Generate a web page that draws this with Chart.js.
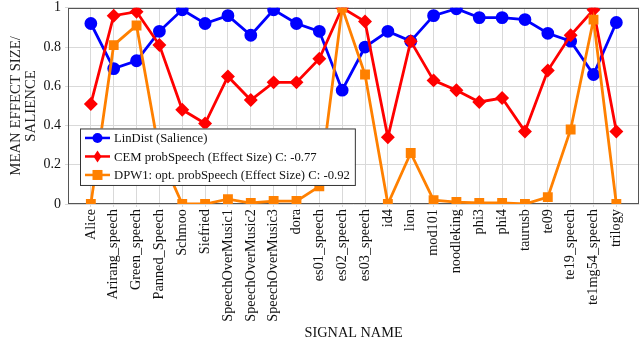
<!DOCTYPE html>
<html>
<head>
<meta charset="utf-8">
<script src="https://cdn.jsdelivr.net/npm/chart.js@4.4.1/dist/chart.umd.min.js"></script>
<style>
html, body { margin: 0; padding: 0; background: #fff; overflow: hidden; }
#wrap { width: 647px; height: 343px; }
</style>
</head>
<body>
<div id="wrap"><canvas id="chart"></canvas></div>
<script>
const signals = [
    "Alice", "Arirang_speech", "Green_speech", "Panned_Speech", "Schmoo", "Siefried",
    "SpeechOverMusic1", "SpeechOverMusic2", "SpeechOverMusic3", "dora", "es01_speech",
    "es02_speech", "es03_speech", "id4", "lion", "mod101", "noodleking", "phi3", "phi4",
    "taurusb", "te09", "te19_speech", "te1mg54_speech", "trilogy",
];
const linDist = [0.92, 0.69, 0.73, 0.88, 0.99, 0.92, 0.96, 0.86, 0.99, 0.92, 0.88, 0.58,
    0.80, 0.88, 0.83, 0.96, 0.995, 0.95, 0.95, 0.94, 0.87, 0.83, 0.66, 0.925];
const cemSpeech = [0.51, 0.96, 0.98, 0.81, 0.48, 0.41, 0.65, 0.53, 0.62, 0.62, 0.74, 1.0,
    0.93, 0.34, 0.83, 0.63, 0.58, 0.52, 0.54, 0.37, 0.68, 0.86, 0.99, 0.37];
const dpwSpeech = [0.0, 0.81, 0.91, 0.26, 0.0, 0.0, 0.025, 0.005, 0.015, 0.015, 0.09, 1.0,
    0.66, 0.0, 0.26, 0.02, 0.01, 0.005, 0.005, 0.0, 0.035, 0.38, 0.94, 0.0];
const yTicks = [0, 0.2, 0.4, 0.6, 0.8, 1];

const serif = "'Liberation Serif', 'DejaVu Serif', serif";
const toPoints = arr => arr.map((v, i) => ({ x: i, y: v }));

// dark frame round the plot area
const frame = {
    id: "frame",
    beforeDatasetsDraw(chart) {
        const { ctx, chartArea: a } = chart;
        ctx.save();
        ctx.strokeStyle = "#555";
        ctx.lineWidth = 1;
        ctx.strokeRect(Math.round(a.left) + 0.5, Math.round(a.top) + 0.5,
            Math.round(a.right - a.left) - 1, Math.round(a.bottom - a.top) - 1);
        ctx.restore();
    },
};

// legend drawn inside the plot, like the pgfplots box
const boxLegend = {
    id: "boxLegend",
    afterDatasetsDraw(chart) {
        const ctx = chart.ctx;
        const area = chart.chartArea;
        const x0 = area.left + 12;
        const y0 = chart.scales.y.getPixelForValue(0.385);
        const rowH = 18.5;
        const sets = chart.data.datasets;
        ctx.save();
        ctx.font = "12.7px " + serif;
        let textW = 0;
        sets.forEach(ds => { textW = Math.max(textW, ctx.measureText(ds.label).width); });
        const w = 34 + textW + 5;
        const h = rowH * sets.length + 1;
        ctx.fillStyle = "#fff";
        ctx.fillRect(x0, y0, w, h);
        ctx.strokeStyle = "#333";
        ctx.lineWidth = 1;
        ctx.strokeRect(x0 + 0.5, y0 + 0.5, w, h);
        sets.forEach((ds, i) => {
            const cy = y0 + 9.5 + i * rowH;
            ctx.strokeStyle = ds.borderColor;
            ctx.lineWidth = 2.5;
            ctx.beginPath();
            ctx.moveTo(x0 + 5, cy);
            ctx.lineTo(x0 + 30, cy);
            ctx.stroke();
            ctx.fillStyle = ds.borderColor;
            const mx = x0 + 17.5, r = ds.pointRadius;
            ctx.beginPath();
            if (ds.pointStyle === "circle") {
                ctx.arc(mx, cy, r, 0, Math.PI * 2);
            } else if (ds.pointStyle === "rectRot") {
                ctx.moveTo(mx, cy - r * 1.2);
                ctx.lineTo(mx + r * 0.8, cy);
                ctx.lineTo(mx, cy + r * 1.2);
                ctx.lineTo(mx - r * 0.8, cy);
                ctx.closePath();
            } else {
                ctx.rect(mx - r, cy - r, r * 2, r * 2);
            }
            ctx.fill();
            ctx.fillStyle = "#111";
            ctx.textBaseline = "middle";
            ctx.fillText(ds.label, x0 + 34, cy + 1);
        });
        ctx.restore();
    },
};

new Chart(document.querySelector("#chart"), {
    type: "line",
    data: {
        datasets: [
            {
                label: "LinDist (Salience)",
                data: toPoints(linDist),
                borderColor: "#0000ff",
                backgroundColor: "#0000ff",
                borderWidth: 2.8,
                pointStyle: "circle",
                pointRadius: 5,
                order: 3,
            },
            {
                label: "CEM probSpeech (Effect Size) C: -0.77",
                data: toPoints(cemSpeech),
                borderColor: "#ff0000",
                backgroundColor: "#ff0000",
                borderWidth: 2.8,
                pointStyle: "rectRot",
                pointRadius: 5,
                order: 2,
            },
            {
                label: "DPW1: opt. probSpeech (Effect Size) C: -0.92",
                data: toPoints(dpwSpeech),
                borderColor: "#ff8000",
                backgroundColor: "#ff8000",
                borderWidth: 2.8,
                pointStyle: "rect",
                pointRadius: 5,
                order: 1,
            },
        ],
    },
    options: {
        responsive: true,
        maintainAspectRatio: false,
        animation: false,
        layout: { padding: { top: 0, right: 0, left: 0, bottom: 0 } },
        plugins: {
            legend: { display: false },
            tooltip: { enabled: false },
        },
        scales: {
            x: {
                type: "linear",
                min: -1,
                max: signals.length,
                afterBuildTicks: scale => {
                    scale.ticks = signals.map((s, i) => ({ value: i }));
                },
                afterFit: scale => { scale.height = 139; },
                ticks: {
                    autoSkip: false,
                    maxRotation: 90,
                    minRotation: 90,
                    padding: 2,
                    color: "#111",
                    font: { family: serif, size: 14.3 },
                    callback: v => signals[v] || "",
                },
                grid: { color: "#d9d9d9", tickLength: 3 },
                border: { display: false },
                title: {
                    display: true,
                    text: "SIGNAL NAME",
                    color: "#111",
                    font: { family: serif, size: 14.3 },
                    padding: { top: 0, bottom: 1 },
                },
            },
            y: {
                min: 0,
                max: 1,
                afterBuildTicks: scale => { scale.ticks = yTicks.map(v => ({ value: v })); },
                afterFit: scale => {
                    scale.width = 68;
                    scale.paddingTop = 0;
                    scale.paddingBottom = 0;
                },
                ticks: {
                    padding: 4,
                    color: "#111",
                    font: { family: serif, size: 14 },
                    callback: v => String(v),
                },
                grid: { color: "#d9d9d9", tickLength: 3 },
                border: { display: false },
                title: {
                    display: true,
                    text: ["MEAN EFFECT SIZE/", "SALIENCE"],
                    color: "#222",
                    font: { family: serif, size: 14.8, lineHeight: 1.05 },
                    padding: { top: 8, bottom: 0 },
                },
            },
        },
    },
    plugins: [frame, boxLegend],
});
</script>
</body>
</html>
